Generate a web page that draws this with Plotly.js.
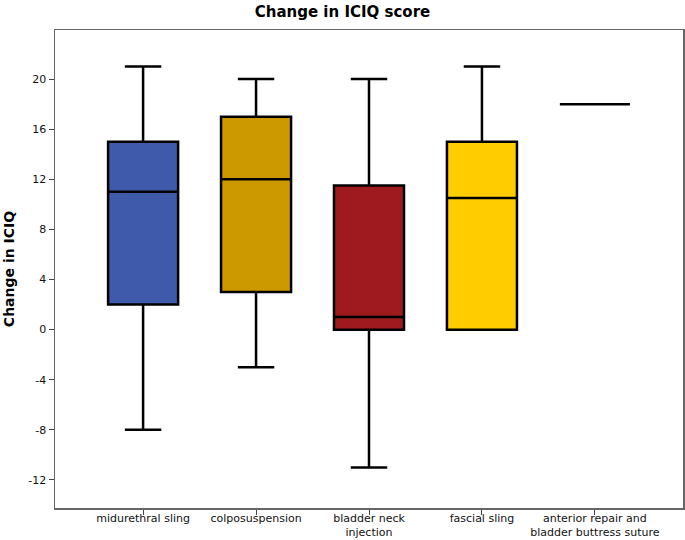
<!DOCTYPE html>
<html>
<head>
<meta charset="utf-8">
<script src="https://cdn.plot.ly/plotly-3.0.1.min.js"></script>
<style>html,body{margin:0;padding:0;background:#fff;}#chart{width:685px;height:540px;}</style>
</head>
<body>
<div id="chart"></div>
<script>
var categories = ["midurethral sling", "colposuspension", "bladder neck<br>injection", "fascial sling", "anterior repair and<br>bladder buttress suture"];
var lowerWhisker = [-8, -3, -11, 0, 18];
var q1Values = [2, 3, 0, 0, 18];
var medianValues = [11, 12, 1, 10.5, 18];
var q3Values = [15, 17, 11.5, 15, 18];
var upperWhisker = [21, 20, 20, 21, 18];
var boxColors = ["#3f5aab", "#cc9900", "#9e1a1f", "#ffcc00", "#ffffff"];
var yTickValues = [-12, -8, -4, 0, 4, 8, 12, 16, 20];

var traces = categories.map(function (cat, i) {
  return {
    type: "box",
    x: [cat],
    q1: [q1Values[i]],
    median: [medianValues[i]],
    q3: [q3Values[i]],
    lowerfence: [lowerWhisker[i]],
    upperfence: [upperWhisker[i]],
    fillcolor: boxColors[i],
    line: {color: "#000000", width: 2.5},
    width: 0.62,
    whiskerwidth: 0.52,
    boxpoints: false,
    hoverinfo: "skip",
    showlegend: false
  };
});

var layout = {
  width: 685,
  height: 540,
  margin: {l: 55, r: 2, t: 30, b: 32},
  paper_bgcolor: "#ffffff",
  plot_bgcolor: "#ffffff",
  boxmode: "overlay",
  font: {family: "DejaVu Sans, sans-serif", color: "#222222", size: 11},
  title: {
    text: "<b>Change in ICIQ score</b>",
    font: {family: "DejaVu Sans, sans-serif", size: 15, color: "#000000"},
    x: 0.5, xref: "container", xanchor: "center",
    y: 0.978, yref: "container", yanchor: "middle"
  },
  xaxis: {
    type: "category",
    categoryorder: "array",
    categoryarray: categories,
    range: [-0.78, 4.78],
    showgrid: false,
    zeroline: false,
    showline: true,
    linecolor: "#666666",
    linewidth: 1.5,
    mirror: true,
    ticks: "outside",
    ticklen: 5,
    tickwidth: 1,
    tickcolor: "#444444",
    ticklabelstandoff: -6,
    tickfont: {family: "DejaVu Sans, sans-serif", size: 11, color: "#111111"},
    fixedrange: true
  },
  yaxis: {
    range: [-14.24, 23.92],
    tickvals: yTickValues,
    ticktext: yTickValues.map(String),
    showgrid: false,
    zeroline: false,
    showline: true,
    linecolor: "#666666",
    linewidth: 1.5,
    mirror: true,
    ticks: "outside",
    ticklen: 5,
    tickwidth: 1,
    tickcolor: "#444444",
    tickfont: {family: "DejaVu Sans, sans-serif", size: 11, color: "#111111"},
    title: {
      text: "<b>Change in ICIQ</b>",
      font: {family: "DejaVu Sans, sans-serif", size: 14, color: "#000000"},
      standoff: 10
    },
    fixedrange: true
  }
};

Plotly.newPlot("chart", traces, layout, {displayModeBar: false, staticPlot: true});
</script>
</body>
</html>
